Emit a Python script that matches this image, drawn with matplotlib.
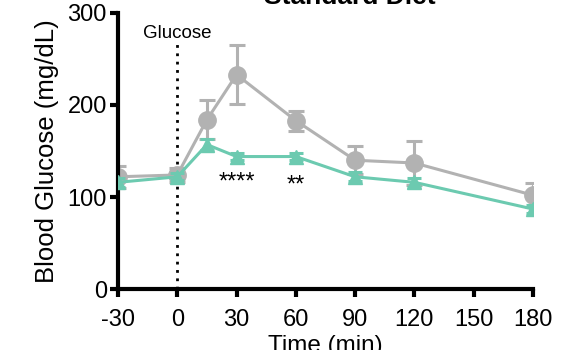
import matplotlib
matplotlib.use("Agg")
import matplotlib.pyplot as plt

plt.rcParams['font.family'] = ['Liberation Sans', 'DejaVu Sans']
plt.rcParams['axes.unicode_minus'] = False

# time points (min)
times = [-30, 0, 15, 30, 60, 90, 120, 180]

# gray series (circles)
grayMean = [122, 124, 184, 233, 183, 140, 137, 102]
grayErr = [12, 8, 21, 32, 11, 15, 24, 13]

# teal series (triangles)
tealMean = [116, 122, 157, 144, 144, 122, 116, 87]
tealErr = [5, 4, 6, 4, 4, 5, 5, 4]

xTicks = [-30, 0, 30, 60, 90, 120, 150, 180]
yTicks = [0, 100, 200, 300]

grayColor = '#b2b2b2'
tealColor = '#6ccab0'

fig = plt.figure(figsize=(5.7, 3.5), dpi=100)
ax = fig.add_axes([0.207, 0.174, 0.728, 0.789])

ax.errorbar(times, tealMean, yerr=tealErr, color=tealColor, marker='^', markersize=10,
            linewidth=2.2, elinewidth=2.2, capsize=5, capthick=2.2, zorder=3)
ax.errorbar(times, grayMean, yerr=grayErr, color=grayColor, marker='o', markersize=12.5,
            linewidth=2.2, elinewidth=2.2, capsize=5.5, capthick=2.2, zorder=2)

ax.plot([0, 0], [0, 268], color='black', linestyle=(0, (1, 2)), linewidth=2, zorder=1)
ax.text(0, 268, 'Glucose', ha='center', va='bottom', fontsize=13.5)

ax.text(30, 116, '****', ha='center', va='center', fontsize=17)
ax.text(60, 113, '**', ha='center', va='center', fontsize=17)

ax.set_xlim(-30, 180)
ax.set_ylim(0, 300)
ax.set_xticks(xTicks)
ax.set_yticks(yTicks)
ax.tick_params(labelsize=17, width=3, length=6, direction='out', pad=2)
ax.tick_params(axis='x', pad=8)

for side in ['top', 'right']:
    ax.spines[side].set_visible(False)
for side in ['left', 'bottom']:
    ax.spines[side].set_linewidth(3)

ax.set_ylabel('Blood Glucose (mg/dL)', fontsize=18.5, labelpad=6)
ax.set_xlabel('Time (min)', fontsize=17.5, labelpad=3)
fig.text(0.614, 1.01, 'Standard Diet', ha='center', va='center', fontsize=19, fontweight='bold')

fig.savefig('out.png', dpi=100)
